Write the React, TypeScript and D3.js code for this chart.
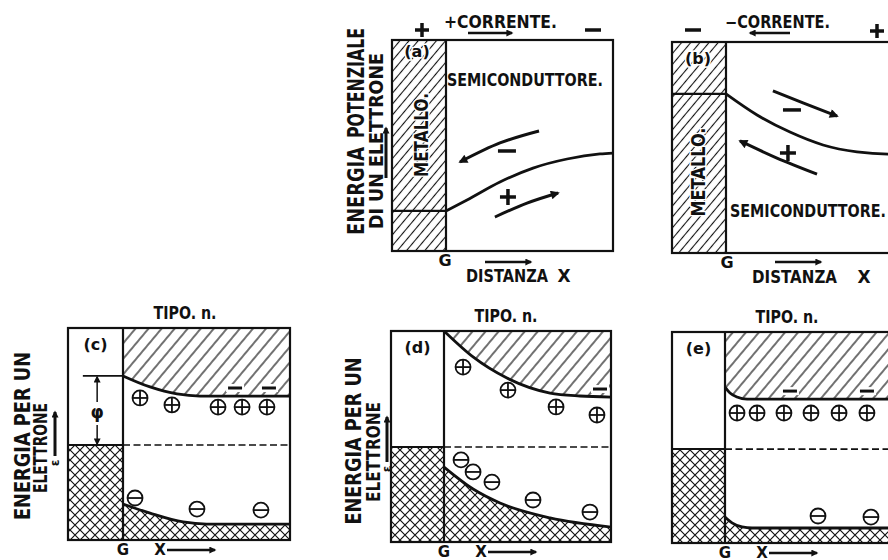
import React from 'react';
import * as d3 from 'd3';

type Pt = [number, number];
type Frame = { left: number; metal: number; right: number; top: number; bottom: number };

// panel frames (page pixels): metal block left..metal, semiconductor metal..right
const FRAME_A: Frame = { left: 392, metal: 446, right: 613, top: 40, bottom: 251 };
const FRAME_B: Frame = { left: 672, metal: 726, right: 893, top: 42, bottom: 253 };
const FRAME_C: Frame = { left: 68, metal: 123, right: 290, top: 328, bottom: 540 };
const FRAME_D: Frame = { left: 391, metal: 444, right: 611, top: 331, bottom: 542 };
const FRAME_E: Frame = { left: 672, metal: 725, right: 892, top: 332, bottom: 543 };

// x = distance from contact G (0..1), y = electron energy (0..1)
const bandA: Pt[] = [[0, 0.19], [0.126, 0.242], [0.323, 0.327], [0.521, 0.393], [0.725, 0.436], [0.922, 0.46], [1, 0.464]];
const fermiA = 0.19;
const arrowMinusA: Pt[] = [[0.557, 0.569], [0.323, 0.512], [0.084, 0.422]];
const arrowPlusA: Pt[] = [[0.293, 0.161], [0.485, 0.227], [0.671, 0.275]];
const signMinusA: Pt = [0.365, 0.474];
const signPlusA: Pt = [0.371, 0.256];

const bandB: Pt[] = [[0, 0.754], [0.186, 0.654], [0.383, 0.573], [0.581, 0.512], [0.784, 0.479], [0.97, 0.469], [1, 0.469]];
const fermiB = 0.754;
const arrowMinusB: Pt[] = [[0.281, 0.768], [0.461, 0.711], [0.665, 0.649]];
const arrowPlusB: Pt[] = [[0.545, 0.374], [0.305, 0.45], [0.084, 0.531]];
const signMinusB: Pt = [0.395, 0.678];
const signPlusB: Pt = [0.371, 0.474];

const upperC: Pt[] = [[0, 0.774], [0.162, 0.722], [0.323, 0.689], [0.461, 0.679], [1, 0.679]];
const lowerC: Pt[] = [[0, 0.17], [0.162, 0.127], [0.36, 0.085], [0.5, 0.075], [1, 0.075]];
const fermiC = 0.448;
const donorsC: Pt[] = [[0.102, 0.67], [0.293, 0.637], [0.569, 0.627], [0.713, 0.627], [0.862, 0.627]];
const electronsC: Pt[] = [[0.671, 0.717], [0.874, 0.717]];
const acceptorsC: Pt[] = [[0.072, 0.198], [0.443, 0.146], [0.826, 0.141]];

const upperD: Pt[] = [[0, 1], [0.174, 0.877], [0.377, 0.777], [0.635, 0.706], [0.814, 0.692], [1, 0.687]];
const lowerD: Pt[] = [[0, 0.355], [0.174, 0.251], [0.335, 0.185], [0.635, 0.114], [1, 0.071]];
const fermiD = 0.45;
const donorsD: Pt[] = [[0.114, 0.829], [0.383, 0.72], [0.671, 0.64], [0.916, 0.602]];
const electronsD: Pt[] = [[0.934, 0.725]];
const acceptorsD: Pt[] = [[0.102, 0.389], [0.174, 0.332], [0.287, 0.284], [0.533, 0.199], [0.874, 0.142]];

const upperE: Pt[] = [[0, 0.739], [0.03, 0.711], [0.072, 0.692], [0.132, 0.682], [1, 0.682]];
const lowerE: Pt[] = [[0, 0.123], [0.042, 0.095], [0.102, 0.076], [0.162, 0.071], [1, 0.071]];
const fermiE = 0.445;
const donorsE: Pt[] = [[0.072, 0.616], [0.192, 0.616], [0.353, 0.616], [0.515, 0.616], [0.683, 0.616], [0.85, 0.616]];
const electronsE: Pt[] = [[0.389, 0.72], [0.85, 0.72]];
const acceptorsE: Pt[] = [[0.557, 0.128], [0.874, 0.123]];

// barrier height marker in (c): metal-side position (-1..0) and energy span
const phiC = { x: -0.47, tickFrom: -0.73, top: 0.774, bottom: 0.448 };

const FONT = "'DejaVu Sans', 'Liberation Sans', sans-serif";
const INK = '#111';

function scales(f: Frame) {
  return {
    x: d3.scaleLinear().domain([0, 1]).range([f.metal, f.right]),
    xm: d3.scaleLinear().domain([-1, 0]).range([f.left, f.metal]),
    y: d3.scaleLinear().domain([0, 1]).range([f.bottom, f.top]),
  };
}

function Label(props: { x: number; y: number; size: number; len?: number; rot?: boolean; anchor?: string; halo?: boolean; children: string }) {
  const { x, y, size, len, rot, anchor = 'start', halo } = props;
  return (
    <text
      transform={`translate(${x},${y})${rot ? ' rotate(-90)' : ''}`}
      fontFamily={FONT}
      fontWeight="bold"
      fontSize={size}
      textAnchor={anchor}
      textLength={len}
      lengthAdjust={len ? 'spacingAndGlyphs' : undefined}
      fill={INK}
      stroke={halo ? '#fff' : undefined}
      strokeWidth={halo ? 3 : undefined}
      paintOrder="stroke"
    >
      {props.children}
    </text>
  );
}

function Arrow({ pts, w = 2.5, marker = 'ah' }: { pts: Pt[]; w?: number; marker?: string }) {
  const line = d3.line().curve(d3.curveNatural);
  return <path d={line(pts) || ''} fill="none" stroke={INK} strokeWidth={w} markerEnd={`url(#${marker})`} />;
}

function Plus({ c, s = 8, w = 3.5 }: { c: Pt; s?: number; w?: number }) {
  return (
    <g stroke={INK} strokeWidth={w}>
      <line x1={c[0] - s} x2={c[0] + s} y1={c[1]} y2={c[1]} />
      <line x1={c[0]} x2={c[0]} y1={c[1] - s} y2={c[1] + s} />
    </g>
  );
}

function Minus({ c, s = 8, w = 3.5 }: { c: Pt; s?: number; w?: number }) {
  return <line x1={c[0] - s} x2={c[0] + s} y1={c[1]} y2={c[1]} stroke={INK} strokeWidth={w} />;
}

function Ion({ c, plus }: { c: Pt; plus: boolean }) {
  const r = 7.5;
  return (
    <g stroke={INK} strokeWidth={1.8} fill="#fff">
      <circle cx={c[0]} cy={c[1]} r={r} />
      <line x1={c[0] - r} x2={c[0] + r} y1={c[1]} y2={c[1]} />
      {plus && <line x1={c[0]} x2={c[0]} y1={c[1] - r} y2={c[1] + r} />}
    </g>
  );
}

function Electron({ c }: { c: Pt }) {
  return (
    <g>
      <rect x={c[0] - 9} y={c[1] - 4} width={18} height={8} fill="#fff" />
      <line x1={c[0] - 7} x2={c[0] + 7} y1={c[1]} y2={c[1]} stroke={INK} strokeWidth={3} />
    </g>
  );
}

// top row: metal / semiconductor contact with potential curve
function Contact({ f, band, fermi }: { f: Frame; band: Pt[]; fermi: number }) {
  const s = scales(f);
  const line = d3.line<Pt>().x((d) => s.x(d[0])).y((d) => s.y(d[1])).curve(d3.curveMonotoneX);
  return (
    <g>
      <rect x={f.left} y={f.top} width={f.metal - f.left} height={f.bottom - f.top} fill="url(#hatchFine)" />
      <line x1={f.left} x2={f.metal} y1={s.y(fermi)} y2={s.y(fermi)} stroke={INK} strokeWidth={2.2} />
      <path d={line(band) || ''} fill="none" stroke={INK} strokeWidth={2.8} />
      <rect x={f.left} y={f.top} width={f.right - f.left} height={f.bottom - f.top} fill="none" stroke={INK} strokeWidth={2.2} />
      <line x1={f.metal} x2={f.metal} y1={f.top} y2={f.bottom} stroke={INK} strokeWidth={2.2} />
    </g>
  );
}

// bottom row: band diagram with hatched conduction band and cross-hatched valence side
function Bands({ f, upper, lower, fermi, donors, electrons, acceptors, tag }: {
  f: Frame; upper: Pt[]; lower: Pt[]; fermi: number; donors: Pt[]; electrons: Pt[]; acceptors: Pt[]; tag: string;
}) {
  const s = scales(f);
  const line = d3.line<Pt>().x((d) => s.x(d[0])).y((d) => s.y(d[1])).curve(d3.curveMonotoneX);
  const top = d3.area<Pt>().x((d) => s.x(d[0])).y0(f.top).y1((d) => s.y(d[1])).curve(d3.curveMonotoneX);
  const bot = d3.area<Pt>().x((d) => s.x(d[0])).y0(f.bottom).y1((d) => s.y(d[1])).curve(d3.curveMonotoneX);
  const fy = s.y(fermi);
  return (
    <g>
      <path d={top(upper) || ''} fill="url(#hatchWide)" />
      <path d={bot(lower) || ''} fill="url(#cross)" />
      <rect x={f.left} y={fy} width={f.metal - f.left} height={f.bottom - fy} fill="url(#cross)" />
      <line x1={f.left} x2={f.metal} y1={fy} y2={fy} stroke={INK} strokeWidth={2} />
      <line x1={f.metal} x2={f.right} y1={fy} y2={fy} stroke={INK} strokeWidth={1.6} strokeDasharray="7,3.5" />
      <path d={line(upper) || ''} fill="none" stroke={INK} strokeWidth={2.8} />
      <path d={line(lower) || ''} fill="none" stroke={INK} strokeWidth={2.8} />
      {donors.map((d, i) => <Ion key={'p' + i} c={[s.x(d[0]), s.y(d[1])]} plus />)}
      {acceptors.map((d, i) => <Ion key={'m' + i} c={[s.x(d[0]), s.y(d[1])]} plus={false} />)}
      {electrons.map((d, i) => <Electron key={'e' + i} c={[s.x(d[0]), s.y(d[1])]} />)}
      <rect x={f.left} y={f.top} width={f.right - f.left} height={f.bottom - f.top} fill="none" stroke={INK} strokeWidth={2.2} />
      <line x1={f.metal} x2={f.metal} y1={f.top} y2={f.bottom} stroke={INK} strokeWidth={2.2} />
      <Label x={(f.left + f.metal) / 2} y={f.top + 22} size={16} anchor="middle">{tag}</Label>
      <Label x={f.metal + 62} y={f.top - 9} size={17} len={63} anchor="middle">TIPO. n.</Label>
      <Label x={f.metal} y={f.bottom + 15} size={15} anchor="middle">G</Label>
      <Label x={f.metal + 37} y={f.bottom + 15} size={15} anchor="middle">X</Label>
      <Arrow pts={[[f.metal + 44, f.bottom + 10], [f.metal + 92, f.bottom + 10]]} w={2.5} marker="ahS" />
    </g>
  );
}

export default function App() {
  const sa = scales(FRAME_A);
  const sb = scales(FRAME_B);
  const sc = scales(FRAME_C);
  const map = (s: ReturnType<typeof scales>) => (pts: Pt[]) => pts.map((d) => [s.x(d[0]), s.y(d[1])] as Pt);
  const pa = map(sa);
  const pb = map(sb);
  const phiX = sc.xm(phiC.x);
  const phiTop = sc.y(phiC.top);
  const phiBot = sc.y(phiC.bottom);

  return (
    <svg width={888} height={560} style={{ position: 'absolute', left: 0, top: 0, display: 'block', background: '#fff' }}>
      <defs>
        <pattern id="hatchFine" patternUnits="userSpaceOnUse" width={7} height={7} patternTransform="rotate(40)">
          <line x1={3.5} x2={3.5} y1={0} y2={7} stroke={INK} strokeWidth={1.1} />
        </pattern>
        <pattern id="hatchWide" patternUnits="userSpaceOnUse" width={10} height={10} patternTransform="rotate(40)">
          <line x1={5} x2={5} y1={0} y2={10} stroke={INK} strokeWidth={1.2} />
        </pattern>
        <pattern id="cross" patternUnits="userSpaceOnUse" width={10} height={10}>
          <path d="M-1,-1L11,11M11,-1L-1,11" stroke={INK} strokeWidth={1.2} />
        </pattern>
        <marker id="ah" viewBox="0 0 10 10" refX={8} refY={5} markerWidth={13} markerHeight={9} markerUnits="userSpaceOnUse" orient="auto">
          <path d="M0,0L10,5L0,10z" fill={INK} />
        </marker>
        <marker id="ahS" viewBox="0 0 10 10" refX={8} refY={5} markerWidth={11} markerHeight={7} markerUnits="userSpaceOnUse" orient="auto">
          <path d="M0,0L10,5L0,10z" fill={INK} />
        </marker>
      </defs>
      <rect width={888} height={560} fill="#fff" />

      {/* (a) */}
      <Contact f={FRAME_A} band={bandA} fermi={fermiA} />
      <Label x={417} y={57} size={16} anchor="middle" halo>(a)</Label>
      <Label x={428} y={135} size={19} len={84} rot anchor="middle" halo>METALLO.</Label>
      <Label x={447} y={86} size={17} len={156}>SEMICONDUTTORE.</Label>
      <Arrow pts={pa(arrowMinusA)} w={3} />
      <Arrow pts={pa(arrowPlusA)} w={3} />
      <Minus c={[sa.x(signMinusA[0]), sa.y(signMinusA[1])]} s={9} />
      <Plus c={[sa.x(signPlusA[0]), sa.y(signPlusA[1])]} s={8} />
      <Plus c={[422, 30]} s={7} />
      <Label x={444} y={28} size={17} len={113}>+CORRENTE.</Label>
      <Arrow pts={[[468, 33], [512, 33]]} w={2.5} marker="ahS" />
      <Minus c={[593, 30]} s={8} />
      <Label x={364} y={191} size={23} len={88} rot anchor="middle">ENERGIA</Label>
      <Label x={364} y={83} size={23} len={110} rot anchor="middle">POTENZIALE</Label>
      <Label x={383} y={141} size={20} len={176} rot anchor="middle">DI UN ELETTRONE</Label>
      <Arrow pts={[[386, 178], [386, 128]]} w={3} marker="ahS" />
      <Label x={445} y={266} size={16} anchor="middle">G</Label>
      <Label x={466} y={282} size={17} len={82}>DISTANZA</Label>
      <Label x={564} y={282} size={17} anchor="middle">X</Label>
      <Arrow pts={[[485, 262], [531, 262]]} w={2.5} marker="ahS" />

      {/* (b) */}
      <Contact f={FRAME_B} band={bandB} fermi={fermiB} />
      <Label x={698} y={64} size={16} anchor="middle" halo>(b)</Label>
      <Label x={705} y={172} size={19} len={89} rot anchor="middle" halo>METALLO.</Label>
      <Label x={730} y={217} size={17} len={156}>SEMICONDUTTORE.</Label>
      <Arrow pts={pb(arrowMinusB)} w={3} />
      <Arrow pts={pb(arrowPlusB)} w={3} />
      <Minus c={[sb.x(signMinusB[0]), sb.y(signMinusB[1])]} s={9} />
      <Plus c={[sb.x(signPlusB[0]), sb.y(signPlusB[1])]} s={8} />
      <Minus c={[693, 30]} s={8} />
      <Label x={725} y={28} size={17} len={105}>−CORRENTE.</Label>
      <Arrow pts={[[790, 33], [750, 33]]} w={2.5} marker="ahS" />
      <Plus c={[877, 31]} s={7} />
      <Label x={727} y={268} size={16} anchor="middle">G</Label>
      <Label x={752} y={283} size={17} len={85}>DISTANZA</Label>
      <Label x={864} y={283} size={17} anchor="middle">X</Label>
      <Arrow pts={[[775, 262], [821, 262]]} w={2.5} marker="ahS" />

      {/* (c) */}
      <Bands f={FRAME_C} upper={upperC} lower={lowerC} fermi={fermiC} donors={donorsC} electrons={electronsC} acceptors={acceptorsC} tag="(c)" />
      <line x1={sc.xm(phiC.tickFrom)} x2={FRAME_C.metal} y1={phiTop} y2={phiTop} stroke={INK} strokeWidth={1.6} />
      <Arrow pts={[[phiX, phiTop + 26], [phiX, phiTop + 1]]} w={1.5} marker="ahS" />
      <Arrow pts={[[phiX, phiBot - 20], [phiX, phiBot - 1]]} w={1.5} marker="ahS" />
      <Label x={phiX} y={phiTop + 42} size={17} anchor="middle">φ</Label>
      <Label x={30} y={436} size={21} len={168} rot anchor="middle">ENERGIA PER UN</Label>
      <Label x={47} y={448} size={19} len={90} rot anchor="middle">ELETTRONE</Label>
      <Arrow pts={[[55, 456], [55, 412]]} w={3} marker="ahS" />
      <Label x={59} y={463} size={12} rot anchor="middle">ε</Label>

      {/* (d) */}
      <Bands f={FRAME_D} upper={upperD} lower={lowerD} fermi={fermiD} donors={donorsD} electrons={electronsD} acceptors={acceptorsD} tag="(d)" />
      <Label x={361} y={441} size={21} len={167} rot anchor="middle">ENERGIA PER UN</Label>
      <Label x={380} y={452} size={19} len={100} rot anchor="middle">ELETTRONE</Label>
      <Arrow pts={[[387, 462], [387, 417]]} w={3} marker="ahS" />
      <Label x={391} y={469} size={12} rot anchor="middle">ε</Label>

      {/* (e) */}
      <Bands f={FRAME_E} upper={upperE} lower={lowerE} fermi={fermiE} donors={donorsE} electrons={electronsE} acceptors={acceptorsE} tag="(e)" />
    </svg>
  );
}
